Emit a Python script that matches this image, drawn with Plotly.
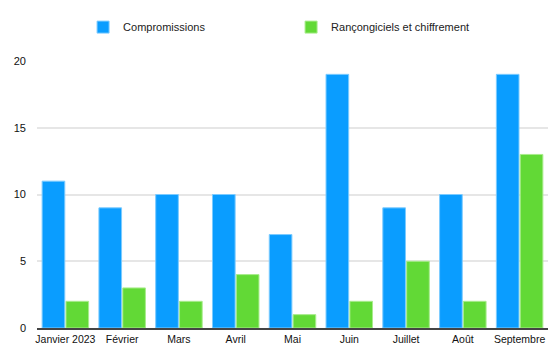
import plotly.graph_objects as go

categories = ["Janvier 2023", "Février", "Mars", "Avril", "Mai", "Juin", "Juillet", "Août", "Septembre"]
compromissions = [11, 9, 10, 10, 7, 19, 9, 10, 19]
rancongiciels = [2, 3, 2, 4, 1, 2, 5, 2, 13]
y_ticks = [0, 5, 10, 15, 20]

fig = go.Figure()
fig.add_trace(go.Bar(
    x=categories, y=compromissions, name="Compromissions",
    marker=dict(color="#0A9DFF", line=dict(color="#7CCBFF", width=1)),
))
fig.add_trace(go.Bar(
    x=categories, y=rancongiciels, name="Rançongiciels et chiffrement",
    marker=dict(color="#62D936", line=dict(color="#A8EC8C", width=1)),
))

# page body has an 8px default margin, so the figure is 552x354
fig.update_layout(
    width=552, height=354,
    margin=dict(l=29, r=12, t=53, b=34, autoexpand=False),
    paper_bgcolor="white", plot_bgcolor="white",
    font=dict(family="Liberation Sans, Arial, sans-serif", size=11, color="#222"),
    barmode="group", bargap=0.16, bargroupgap=0.05,
    showlegend=True,
    legend=dict(orientation="h", xref="container", x=0.136, xanchor="left",
                yref="container", y=0.946, yanchor="middle",
                font=dict(size=11, color="#222"), entrywidth=163, entrywidthmode="pixels",
                itemwidth=30),
    xaxis=dict(showgrid=False, showline=True, linecolor="#444", linewidth=2,
               ticks="", tickfont=dict(size=10.5, color="#111"), automargin=False),
    yaxis=dict(range=[0, 20], tickvals=y_ticks, showgrid=True, gridcolor="#E6E6E6",
               gridwidth=1.5, zeroline=False, ticks="", tickfont=dict(size=11, color="#111"),
               ticklabelstandoff=10, automargin=False),
)

fig.write_html("out.html")
